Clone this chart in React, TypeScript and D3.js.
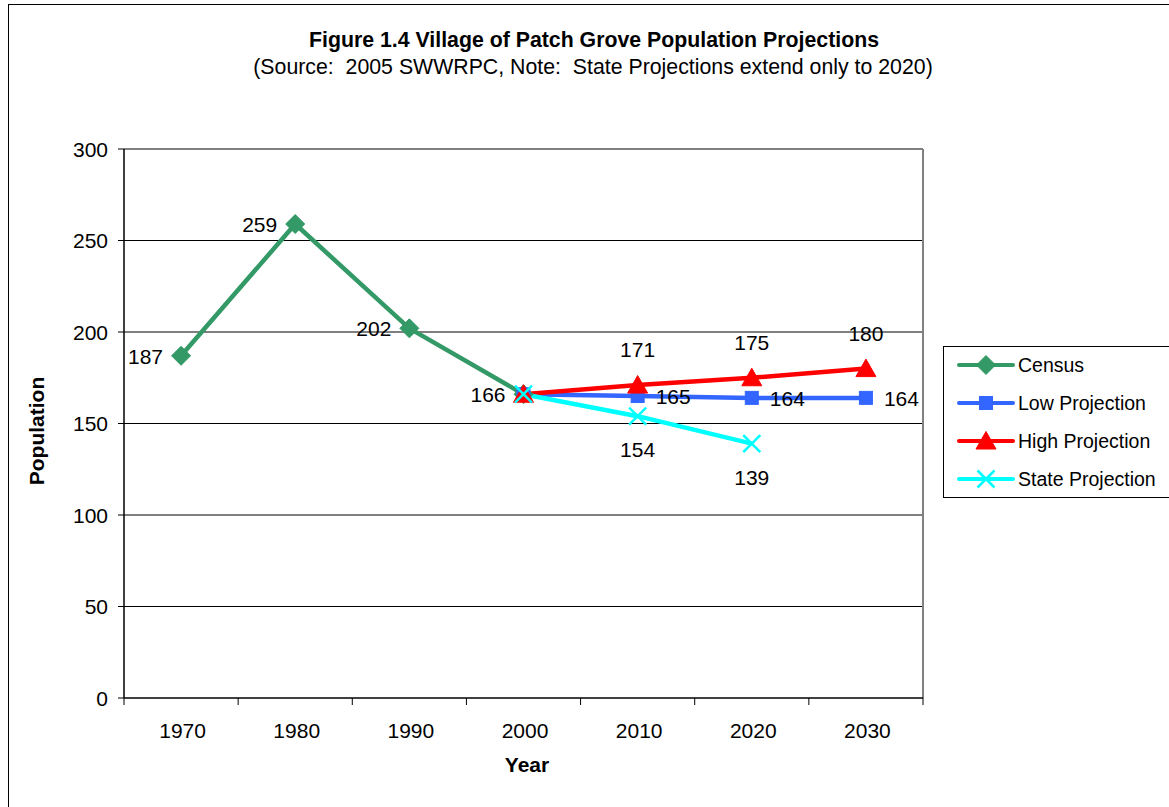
import React from "react";
import * as d3 from "d3";

const years = ["1970", "1980", "1990", "2000", "2010", "2020", "2030"];
const censusYears = ["1970", "1980", "1990", "2000"];
const censusValues = [187, 259, 202, 166];
const lowYears = ["2000", "2010", "2020", "2030"];
const lowValues = [166, 165, 164, 164];
const highYears = ["2000", "2010", "2020", "2030"];
const highValues = [166, 171, 175, 180];
const stateYears = ["2000", "2010", "2020"];
const stateValues = [166, 154, 139];
const yTicks = [0, 50, 100, 150, 200, 250, 300];

const W = 1169, H = 807;
const left = 124, right = 923, top = 149, bottom = 698;
const font = "'Liberation Sans', Arial, sans-serif";
const FS = 21;

type Marker = "diamond" | "square" | "triangle" | "x";

function MarkerShape({ type, x, y, color }: { type: Marker; x: number; y: number; color: string }) {
  if (type === "diamond") {
    const s = 9.5;
    return <path d={`M${x},${y - s}L${x + s},${y}L${x},${y + s}L${x - s},${y}Z`} fill={color} stroke={color} strokeWidth={1} />;
  }
  if (type === "square") {
    const s = 6.5;
    return <rect x={x - s} y={y - s} width={2 * s} height={2 * s} fill={color} stroke={color} strokeWidth={1} />;
  }
  if (type === "triangle") {
    return <path d={`M${x},${y - 9.5}L${x + 10},${y + 8}L${x - 10},${y + 8}Z`} fill={color} stroke={color} strokeWidth={1} />;
  }
  const s = 8.5;
  return (
    <g stroke={color} strokeWidth={2.5}>
      <line x1={x - s} y1={y - s} x2={x + s} y2={y + s} />
      <line x1={x - s} y1={y + s} x2={x + s} y2={y - s} />
    </g>
  );
}

export default function App() {
  const x = d3.scaleBand<string>().domain(years).range([left, right]);
  const cx = (v: string) => (x(v) as number) + x.bandwidth() / 2;
  const y = d3.scaleLinear().domain([0, 300]).range([bottom, top]);
  const line = d3.line<[string, number]>().x((d) => cx(d[0])).y((d) => y(d[1]));

  const series = [
    { name: "Census", yrs: censusYears, vals: censusValues, color: "#339966", marker: "diamond" as Marker, pos: "left" },
    { name: "Low Projection", yrs: lowYears, vals: lowValues, color: "#3366FF", marker: "square" as Marker, pos: "right" },
    { name: "High Projection", yrs: highYears, vals: highValues, color: "#FF0000", marker: "triangle" as Marker, pos: "above" },
    { name: "State Projection", yrs: stateYears, vals: stateValues, color: "#00FFFF", marker: "x" as Marker, pos: "below" },
  ];

  const labels: JSX.Element[] = [];
  series.forEach((s, si) => {
    s.yrs.forEach((yr, i) => {
      if (si > 0 && i === 0) return;
      const px = cx(yr), py = y(s.vals[i]);
      let tx = px, ty = py, anchor = "middle";
      if (s.pos === "left") { tx = px - 18; ty = py + 8; anchor = "end"; }
      if (s.pos === "right") { tx = px + 18; ty = py + 8; anchor = "start"; }
      if (s.pos === "above") { tx = px; ty = py - 28; }
      if (s.pos === "below") { tx = px; ty = py + 41; }
      labels.push(
        <text key={`${si}-${i}`} x={tx} y={ty} textAnchor={anchor} fontSize={FS} fill="#000">{s.vals[i]}</text>
      );
    });
  });

  return (
    <svg width={W} height={H} style={{ position: "fixed", left: 0, top: 0, background: "#fff" }} fontFamily={font}>
      <rect x={0} y={0} width={W} height={H} fill="#fff" />
      <rect x={8.5} y={4.5} width={W + 20} height={H + 20} fill="none" stroke="#000" strokeWidth={1} />
      <text x={594} y={47} textAnchor="middle" fontSize={21.3} fontWeight="bold">Figure 1.4 Village of Patch Grove Population Projections</text>
      <text x={593} y={74} textAnchor="middle" fontSize={21.3} style={{ whiteSpace: "pre" }}>(Source:  2005 SWWRPC, Note:  State Projections extend only to 2020)</text>

      {yTicks.map((t) => (
        <g key={t}>
          {t > 0 && t < 300 && <line x1={left} x2={right} y1={y(t)} y2={y(t)} stroke="#000" strokeWidth={1} />}
          <line x1={left - 6} x2={left} y1={y(t)} y2={y(t)} stroke="#000" strokeWidth={1} />
          <text x={left - 16} y={y(t) + 7.5} textAnchor="end" fontSize={FS}>{t}</text>
        </g>
      ))}
      <line x1={left} x2={right} y1={top} y2={top} stroke="#808080" strokeWidth={2} />
      <line x1={right} x2={right} y1={top} y2={bottom} stroke="#808080" strokeWidth={2} />
      <line x1={left} x2={left} y1={top} y2={bottom} stroke="#000" strokeWidth={1.5} />
      <line x1={left} x2={right} y1={bottom} y2={bottom} stroke="#000" strokeWidth={1.5} />
      {years.map((yr) => (
        <g key={yr}>
          <line x1={(x(yr) as number)} x2={(x(yr) as number)} y1={bottom} y2={bottom + 7} stroke="#000" strokeWidth={1} />
          <text x={cx(yr) + 1.5} y={737.5} textAnchor="middle" fontSize={FS}>{yr}</text>
        </g>
      ))}
      <line x1={right} x2={right} y1={bottom} y2={bottom + 7} stroke="#000" strokeWidth={1} />

      <text x={527} y={772} textAnchor="middle" fontSize={21} fontWeight="bold">Year</text>
      <text transform="translate(44,431) rotate(-90)" textAnchor="middle" fontSize={21} fontWeight="bold">Population</text>

      {series.map((s) => (
        <path key={s.name} d={line(s.yrs.map((yr, i) => [yr, s.vals[i]] as [string, number])) || ""} fill="none" stroke={s.color} strokeWidth={4.5} strokeLinejoin="round" />
      ))}
      {series.map((s) =>
        s.yrs.map((yr, i) => <MarkerShape key={s.name + yr} type={s.marker} x={cx(yr)} y={y(s.vals[i])} color={s.color} />)
      )}
      {labels}

      <rect x={943.5} y={346.5} width={240} height={151} fill="#fff" stroke="#000" strokeWidth={1} />
      {series.map((s, i) => {
        const ly = 365 + i * 38;
        return (
          <g key={s.name}>
            <line x1={959} x2={1013} y1={ly} y2={ly} stroke={s.color} strokeWidth={4} strokeLinecap="round" />
            <MarkerShape type={s.marker} x={986} y={ly} color={s.color} />
            <text x={1018} y={ly + 7} fontSize={19.5}>{s.name}</text>
          </g>
        );
      })}
    </svg>
  );
}
